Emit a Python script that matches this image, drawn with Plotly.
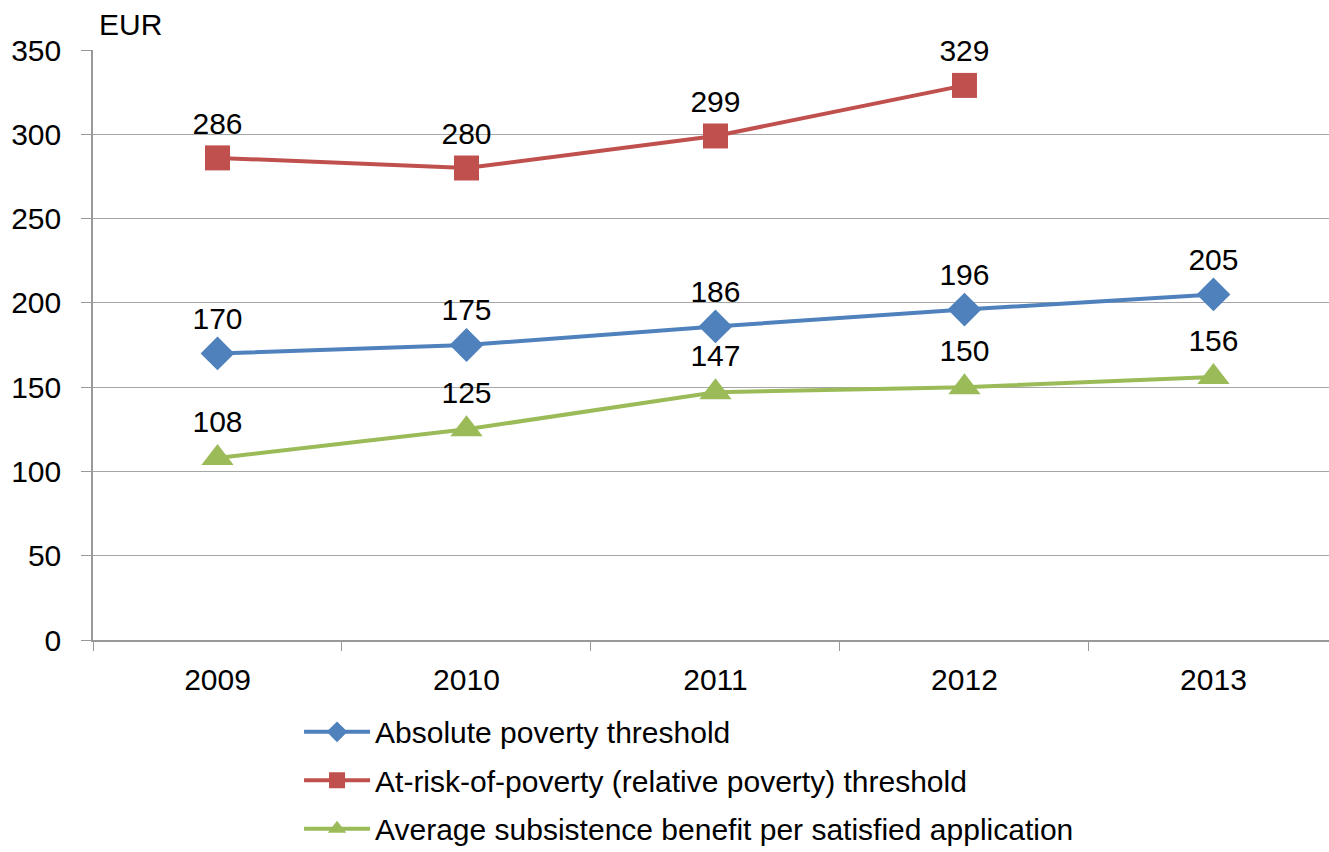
import plotly.graph_objects as go

years = ["2009", "2010", "2011", "2012", "2013"]
absolute = [170, 175, 186, 196, 205]
relative = [286, 280, 299, 329, None]
benefit = [108, 125, 147, 150, 156]

names = ["Absolute poverty threshold",
         "At-risk-of-poverty (relative poverty) threshold",
         "Average subsistence benefit per satisfied application"]
colors = ["#4F81BD", "#C0504D", "#9BBB59"]
symbols = ["diamond", "square", "triangle-up"]
sizes = [26, 25, 28]
series = [absolute, relative, benefit]

FONT = "Liberation Sans, Arial, sans-serif"
FS = 30

fig = go.Figure()
for i, (vals, name, col, sym, sz) in enumerate(zip(series, names, colors, symbols, sizes)):
    fig.add_trace(go.Scatter(
        x=years, y=vals, name=name, mode="lines+markers+text",
        legendgroup="g%d" % i,
        line=dict(color=col, width=4),
        marker=dict(symbol=sym, size=sz, color=col),
        text=[("" if v is None else str(v)) for v in vals],
        textposition="top center",
        textfont=dict(size=FS, color="#000000", family=FONT),
        cliponaxis=False,
    ))

fig.update_layout(
    width=1329, height=852,
    margin=dict(l=93, r=0, t=50, b=212, autoexpand=False),
    plot_bgcolor="white", paper_bgcolor="white",
    font=dict(family=FONT, size=FS, color="#000000"),
    showlegend=True,
    legend=dict(x=0.1667, y=-0.1115, xanchor="left", yanchor="top",
                orientation="v", font=dict(size=30, family=FONT),
                itemwidth=66, tracegroupgap=6.5, bgcolor="rgba(0,0,0,0)"),
    xaxis=dict(type="category", range=[-0.5, 4.464], showgrid=False,
               showline=True, linecolor="#999999", linewidth=1.5,
               ticks="outside", tickson="boundaries", ticklen=9,
               tickcolor="#999999", ticklabelstandoff=12,
               tickfont=dict(size=FS, family=FONT)),
    yaxis=dict(range=[0, 350], dtick=50, showgrid=True, gridcolor="#a6a6a6",
               gridwidth=1.2, showline=True, linecolor="#999999", linewidth=1.5,
               ticks="outside", ticklen=10, tickcolor="#999999",
               zeroline=False, tickfont=dict(size=FS, family=FONT),
               ticklabelstandoff=14),
    annotations=[dict(text="EUR", x=(97 - 93) / 1236, y=(640 - 25) / 590,
                      xref="paper", yref="paper", xanchor="left", yanchor="middle",
                      showarrow=False, font=dict(size=FS, family=FONT))],
)

fig.write_html("out.html", config={"displayModeBar": False},
               post_script="document.body.style.margin='0';document.body.style.overflow='hidden';")
